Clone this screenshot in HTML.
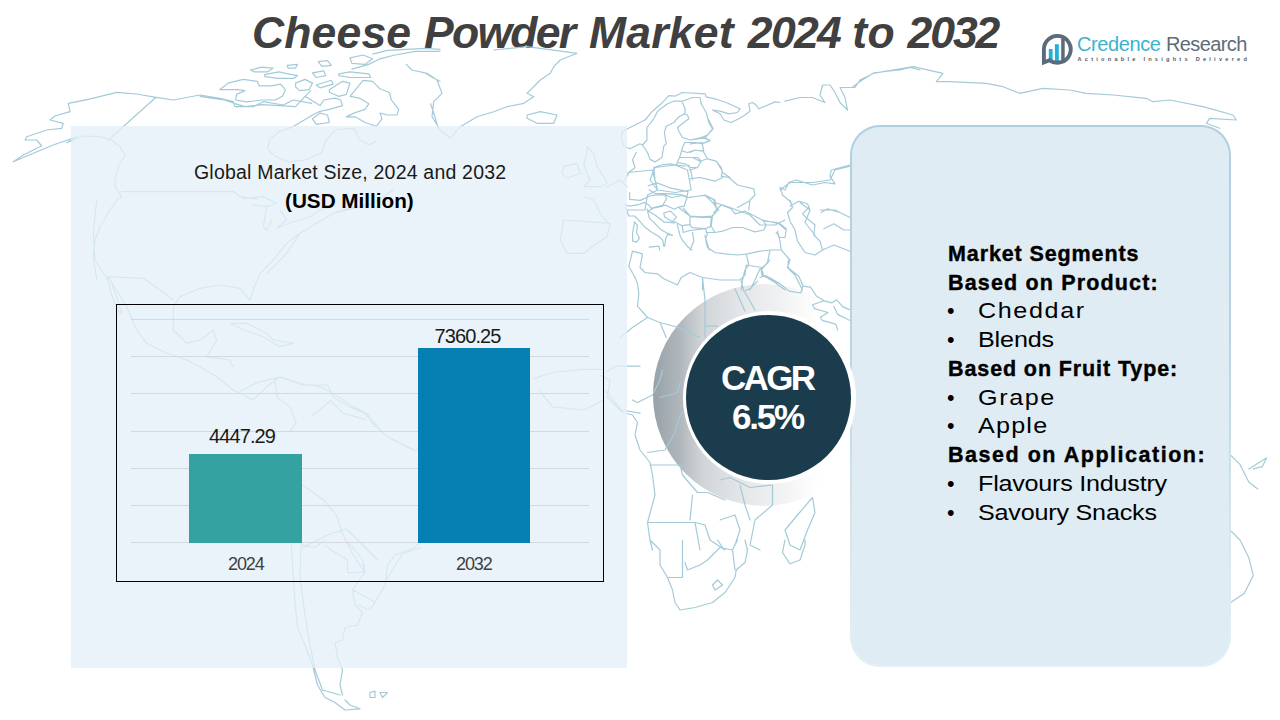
<!DOCTYPE html>
<html>
<head>
<meta charset="utf-8">
<style>
html,body{margin:0;padding:0;}
body{width:1280px;height:720px;position:relative;overflow:hidden;background:#fff;font-family:"Liberation Sans",sans-serif;}
.abs{position:absolute;}
.tw{position:absolute;top:8px;font-size:44.5px;font-weight:bold;font-style:italic;color:#404040;white-space:nowrap;line-height:50px;}
#panel{left:71px;top:126px;width:556px;height:542px;background:rgba(228,240,247,0.78);}
#map{left:0;top:0;}
#chartbox{left:116px;top:304px;width:486px;height:276px;border:1px solid #000;}
.grid{position:absolute;left:131px;width:458px;height:1px;background:#D3D9DD;}
#bar1{left:189px;top:454px;width:113px;height:89px;background:#35A2A2;}
#bar2{left:418px;top:348px;width:112px;height:195px;background:#0680B2;}
.lbl{position:absolute;font-size:20px;letter-spacing:-0.9px;color:#1a1a1a;white-space:nowrap;line-height:24px;}
.axl{position:absolute;font-size:18px;letter-spacing:-1.1px;color:#404040;white-space:nowrap;line-height:22px;}
#gms{left:194px;top:160px;font-size:19.5px;letter-spacing:0.2px;color:#1a1a1a;white-space:nowrap;line-height:24px;}
#usd{left:285px;top:189px;font-size:20.7px;font-weight:bold;color:#000;white-space:nowrap;line-height:24px;}
#cardb{left:850px;top:125px;width:381px;height:542px;border-radius:30px;background:linear-gradient(180deg,#B0CFE0 0%,#B8D4E3 40%,#DDEBF2 85%,#E4EFF5 100%);}
#card{left:852px;top:127px;width:377px;height:538px;border-radius:28px;background:#DFECF4;}
.sl{position:absolute;font-size:21.5px;line-height:28.73px;color:#000;white-space:nowrap;}
.sl.b{font-weight:bold;-webkit-text-stroke:0.4px #000;}
.sl.r{transform:scaleX(1.17);transform-origin:0 0;}
#ring{left:653px;top:284px;width:222px;height:222px;border-radius:50%;background:linear-gradient(90deg,#98A1A8 0%,#B0B7BC 12%,#D0D4D7 22%,#E2E5E7 38%,#EFF0F1 55%,#FFFFFF 75%);}
#circ{left:683.1px;top:311.05px;width:172.7px;height:172.7px;border-radius:50%;background:#fff;}
#dark{left:686.1px;top:315.05px;width:164.7px;height:164.7px;border-radius:50%;background:#1A3C4D;}
#cagr{left:686px;top:357px;width:165px;text-align:center;color:#fff;font-weight:bold;font-size:35px;letter-spacing:-1.2px;line-height:39px;}
</style>
</head>
<body>
<span class="tw" style="left:252.00px;letter-spacing:0.150px">Cheese</span><span class="tw" style="left:424.00px;letter-spacing:-1.720px">Powder</span><span class="tw" style="left:589.00px;letter-spacing:0.220px">Market</span><span class="tw" style="left:747.80px;letter-spacing:-1.667px">2024</span><span class="tw" style="left:852.20px;letter-spacing:0.500px">to</span><span class="tw" style="left:907.60px;letter-spacing:-2.100px">2032</span>

<div id="ring" class="abs"></div>
<svg id="map" class="abs" width="1280" height="720"><path d="M13.3 161.7 L23.3 155 L33.3 150 L41.7 146 L36.7 140 L25 140 L26.7 136.7 L46.7 130 L61.7 128.3 L63.3 123.3 L50 120 L55 116 L70 111.7 L68.3 103.3 L88.3 99.3 L116.7 92.3 L136.7 94 L156 97.3 L173.3 100 L200 95 L220 98.3 L233.3 101.7 L235 106.7 L253.3 106.7 L263.3 101.7 L283.3 105 L293.3 100 L311.7 103.3M13.3 161.7 L33.3 153.3 L53.3 145 L76.7 136.7 L66.7 142.7 L83.3 136 L100 136.7 L111.7 140 L120 146.7 L125 155 L118.3 166.7 L115 180 L115 186.7 L121.7 196.7 L116.7 200 L110 210 L100 226.7 L95 240 L93.3 256.7 L96.7 280M156 97.3 L108.3 140M121.7 191.7 L233.3 191.7 L240 196.7 L256.7 199.3M393.3 190 L373.3 203.3 L333.3 213.3 L300 233.3 L286.7 253.3 L266.7 273.3M243.3 198.3 L263.3 196.7 L276.7 203.3 L266.7 206.7 L253.3 205M266.7 206.7 L263.3 226.7 L266.7 230 L271.7 220M280 210 L286.7 220 L276.7 228.3 L293.3 221.7 L310 216.7 L320 210 L333.3 206.7M219.7 89.7 L228.1 83.1 L243.1 79.4 L257.2 81.3 L259.1 85.9 L271.3 85.9 L280.6 84.1 L285.3 89.7 L282.5 96.3 L275 100 L261.9 100 L246.9 101.9 L235.6 100 L236.6 94.4 L245 90.6 L237.5 89.7 L219.7 89.7M200 96.3 L211.3 98.1 L224.4 100 L235.6 103.8 L245 106.6 L261.9 104.7 L278.8 105.6 L295.6 106.6 L305 96.3 L310.6 90.6M250.6 70 L261.9 67.2 L273.1 68.1 L267.5 71.9 L254.4 71.9 L250.6 70M264.7 74.7 L278.8 71.9 L288.1 73.8 L297.5 75.6 L293.8 78.4 L278.8 78.4 L264.7 76.6 L264.7 74.7M287.2 65.3 L297.5 64.4 L295.6 68.1 L288.1 68.1 L287.2 65.3M295.6 83.1 L305 79.4 L312.5 83.1 L308.8 89.7 L299.4 90.6 L295.6 86.9 L295.6 83.1M312.5 72.8 L323.8 70.9 L325.6 75.6 L316.3 77.5 L312.5 72.8M318.1 61.6 L327.5 60.6 L331.3 65.3 L321.9 66.3 L318.1 61.6M316.3 85 L331.3 80.3 L333.1 84.1 L320 87.8 L316.3 85M329.4 89.7 L342.5 81.3 L350 83.1 L346.3 94.4 L338.8 96.3 L329.4 92.5 L329.4 89.7M338.8 73.8 L350 71.9 L368.8 73.8 L370.6 77.5 L350 77.5 L338.8 75.6 L338.8 73.8M350 57.8 L363.1 55 L372.5 58.8 L365 64.4 L351.9 63.4 L350 57.8M351.9 69.1 L368.8 64.4 L380 58.8 L395 55 L415.6 51.3 L440 51.3M372.5 54.1 L387.5 50.3 L406.3 49.4 L425 48.4 L440 49.4M363.1 80.3 L372.5 81.3 L380 88.8 L389.4 92.5 L391.3 100 L398.8 109.4 L396.9 115 L387.5 115 L380 113.1 L381.9 118.8 L376.3 126.3 L365 122.5 L355.6 116.9 L346.3 116.9 L353.8 113.1 L365 109.4 L368.8 103.8 L359.4 98.1 L350 96.3 L363.1 80.3M312.5 118.8 L320 113.1 L327.5 115 L329.4 122.5 L316.3 124.4 L312.5 118.8M305 96.3 L314.4 101.9 L320 105.6 L323.8 100 L335 98.1 L340.6 100 L342.5 105.6 L329.4 109.4 L320 111.3 L312.5 115 L293.8 126.3 L278.8 131.9 L269.4 139.4 L267.5 148.8 L275 156.3 L288.1 161.9 L305 160 L321.9 152.5 L325.6 141.3 L335 130 L353.8 128.1 L359.4 139.4 L368.8 145 L376.3 141.3M406.3 64.4 L411.9 70 L425 72.8 L432.5 77.5 L440 81.3M430.6 103.8 L434.4 115 L438.1 128.1M427 73.3 L437 80 L442 93.3 L433.7 101.7 L432 116.7 L440.3 130 L450.3 138.3 L460.3 126.7 L477 116.7 L493.7 111.7 L507 106.7 L523.7 103.3 L533.7 96.7 L527 93.3 L540.3 80 L550.3 73.3 L553.7 66.7 L560.3 60 L577 53.3 L527 46.7 L493.7 50M527 115 L540.3 111.7 L557 115 L553.7 123.3 L537 123.3 L527 118.3 L527 115M587 146.7 L593.7 153.3 L597 166.7 L603.7 176.7 L607 183.3 L600.3 186.7 L583.7 186.7 L590.3 180 L587 173.3 L583.7 163.3 L587 153.3 L587 146.7M563.7 166.7 L577 163.3 L580.3 173.3 L567 178.3 L562 173.3 L563.7 166.7M563.7 220 L587 221.7 L610.3 223.3 L607 236.7 L597 243.3 L583.7 253.3 L567 253.3 L560.3 240 L563.7 220M583.7 196.7 L593.7 200 L600.3 213.3 L607 221.7M607 186.7 L620.3 180 L627 186.7M853 86.7 L859.7 81.7 L873 73.3 L903 68.3 L913 66.7 L943 73.3 L936.3 81.7 L949.7 81.7 L986.3 83.3 L1003 86.7 L1019.7 93.3 L1043 88.3 L1069.7 90 L1086.3 93.3 L1113 95 L1146.3 98.3 L1153 101.7 L1169.7 100 L1203 106.7 L1233 115 L1236.3 120 L1209.7 118.3 L1206.3 123.3 L1219.7 128.3M96.7 200 L93.3 233.3 L95 260 L103.3 273.3 L110 280 L116.7 296.7 L121.7 313.3M106.7 276.7 L113.3 300 L120 313.3M110 280 L126.7 306.7 L136.7 330 L146.7 343.3 L166.7 353.3 L186.7 360 L200 366.7 L216.7 376.7 L233.3 390 L246.7 396.7 L253.3 400M173.3 306.7 L180 296.7 L200 288.3 L220 285 L240 288.3 L250 300 L253.3 290 L260 273.3 L273.3 260 L286.7 243.3 L300 233.3 L316.7 223.3 L333.3 213.3 L353.3 206.7M173.3 306.7 L173.3 330 L186.7 343.3 L200 340 L213.3 330 L216.7 340 L206.7 356.7 L230 360 L233.3 366.7M106.7 276.7 L143.3 278.3 L160 290 L173.3 300M230 323.3 L246.7 323.3 L266.7 333.3 L273.3 340 L293.3 343.3 L280 346.7 L263.3 336.7 L240 328.3 L230 323.3M253.3 400 L266.7 386.7 L280 376.7 L300 383.3 L320 386.7 L333.3 393.3 L353.3 406.7 L366.7 413.3 L383.3 433.3M642.5 145 L640 143.8 L630 148.8 L623.8 146.2 L621.2 137.5 L622.5 131.2 L627.5 128.8 L635 125 L645 120 L652.5 111.2 L661.2 103.8 L668.8 95.6 L675 96.2 L682.5 92.5 L705 93.8 L706.2 96.9 L715 98.8 L726.2 102.5 L740 108.8 L737.5 112.5 L728.8 113.8 L720 111.2 L712.5 110 L720 113.8 L723.8 120 L731.2 122.5 L738.8 118.8 L745 115 L750 111.2 L748.8 103.8 L752.5 102.5 L756.2 105 L758.8 108.8 L765 106.2 L775 101.9 L780 102.5M642.5 145 L646.9 140 L646.9 127.5 L653.8 118.8 L657.5 111.2 L667.5 103.8 L673.8 101.2 L682.5 101.2 L692.5 97.5 L700 97.5M682.5 102.5 L685 108.8 L685 113.8 L678.8 116.9 L673.8 122.5 L666.2 126.2 L664.4 132.5 L666.2 143.8 L663.8 146.2 L661.9 157.5 L655 161.9 L650 159.4 L647.5 152.5 L642.5 145M700 97.5 L701.2 103.8 L706.2 112.5 L708.8 122.5 L712.5 128.8 L707.5 135 L701.2 137.5 L690 140 L682.5 137.5 L678.8 131.2 L677.5 127.5 L683.8 122.5 L688.8 118.8 L687.5 115 L683.8 113.8M701.2 137.5 L710 140 L702.5 143.8 L703.8 152.5 L707.5 158.8 L716.2 161.2 L721.2 167.5 L722.5 172.5 L730 177.5M685 142.5 L695 142.5 L702.5 143.8M682.5 151.2 L687.5 152.5 L695 150 L703.8 151.2M680 157.5 L692.5 157.5 L700 161.2 L707.5 158.8M677.5 162.5 L685 163.8 L690 167.5 L697.5 167.5 L701.2 161.2M685 142.5 L682.5 147.5 L680 156.2 L676.2 165 L685 166.2M636.2 152.5 L632.5 160 L635 167.5 L628.8 172.5 L625 180M653.8 167.5 L661.2 165 L670 163.8 L676.2 165M653.8 167.5 L655 180M688.8 165 L691.2 172.5 L692.5 180M655 167.5 L675 165 L687.5 170 L691.2 190 L675 192.5 L657.5 190 L650 180 L655 167.5M627.5 172.5 L652.5 170 L657.5 190 L647.5 195 L645 210 L627.5 210M715 202.5 L730 207.5 L750 215 L760 225 L775 225 L785 220M780 190 L790 182.5 L812.5 182.5 L830 180 L835 170 L850 166.2M800 202.5 L810 210 L805 222.5 L815 235M820 210 L835 210 L850 217.5M785 101.2 L800 97.5 L812.5 97.5 L825 102.5 L820 95 L822.5 85 L830 85 L835 92.5 L840 102.5 L847.5 110 L845 97.5 L840 87.5 L855 87.5 L860 80 L875 72.5 L900 70 L910 67.5 L920 70M600 375 L610 380 L607.5 397.5 L622.5 412.5 L632.5 415 L637.5 422.5 L635 435 L640 450 L650 462.5 L652.5 475 L655 495 L647.5 522.5 L650 540 L652.5 550M632.5 400 L637.5 402.5 L652.5 395 L660 380 L662.5 370M660 397.5 L677.5 392.5 L680 382.5M647.5 452.5 L665 450 L675 432.5 L680 415 L682.5 412.5M650 465 L680 465 L682.5 475 L697.5 492.5 L707.5 492.5 L725 500M720 480 L730 477.5 L750 487.5 L772.5 485 L772.5 505 L755 520 L750 545 L760 550M740 485 L745 505 L750 520M647.5 522.5 L670 522.5 L695 522.5 L705 525 L710 540 L725 550M692.5 495 L690 520M695 522.5 L700 550M720 520 L735 515 L740 530 L735 545M812.5 497.5 L815 512.5 L807.5 530 L800 550 L790 545 L785 530 L797.5 515 L812.5 497.5M650 540 L660 550 L660 565 L667.5 577.5 L672.5 590 L675 602.5 L680 610 L695 607.5 L712.5 602.5 L725 592.5 L735 577.5 L736.2 570 L745 562.5 L747.5 550 L745 540M667.5 577.5 L682.5 577.5 L682.5 540M685 562.5 L687.5 570 L700 565 L707.5 560 L720 547.5 L732.5 550 L735 570M717.5 540 L722.5 547.5M732.5 550 L737.5 540M712.5 585 L717.5 580 L722.5 585 L715 590 L712.5 585M785 540 L782.5 552.5 L790 563.8 L800 560 L805 545 L805 540M708.8 120 L713.1 128.8 L705 137.5 L710 140.6 L702.5 143.8 L703.8 152.5 L707.5 158.8 L716.2 161.2 L722.5 171.2 L721.2 176.2 L728.8 177.5 L737.5 185 L753.8 188.8 L755 195 L750 200 L748.8 210M690 140 L703.8 138.1M690 143.8 L702.5 142.5M690 152.5 L695 150 L702.5 151.2M690 157.5 L697.5 157.5 L701.2 161.2 L697.5 167.5 L690 170M690 178.8 L700 177.5 L715 181.2 L722.5 177.5M690 197.5 L705 195 L715 200 L716.2 207.5 L718.8 210M737.5 207.5 L748.8 201.2M780 187.5 L785 190 L788.8 182.5 L796.2 180 L812.5 185 L825 182.5 L835 183.8 L830 176.2 L831.2 170 L850 165M780 187.5 L782.5 195 L790 201.2 L792.5 207.5M790 206.2 L798.8 201.2 L807.5 203.8 L810 210M713.8 212.5 L721.2 205 L731.2 208.8 L735 213.8 L745 211.2 L762.5 220 L780 223.8 L786.2 228.8M712.5 215 L711.2 226.2 L715 232.5 L722.5 231.2 L732.5 227.5 L742.5 227.5 L755 231.9 L763.8 230 L766.2 225 L762.5 220M706.2 232.5 L715 232.5M707.5 247.5 L715 252.5 L725 253.8 L737.5 255 L747.5 253.8 L760 251.2 L771.2 250 L780 250M705 235 L706.2 242.5 L707.5 247.5M777.5 231.2 L780 241.2 L781.2 250M765 221.2 L777.5 222.5 L786.2 230 L785 237.5 L780 237.5 L776.2 232.5M790 200 L792.5 207.5 L787.5 212.5 L790 221.2 L795 230 L797.5 241.2 L805 252.5 L815 255 L822.5 250M808.8 207.5 L802.5 213.8 L807.5 218.8 L815 225 L813.8 235 L820 241.2 L822.5 250M821.2 212.5 L827.5 208.8 L840 212.5 L850 217.5M823.8 228.8 L833.8 223.8 L843.8 230 L850 230M822.5 250 L833.8 245 L850 251.2M746.2 253.8 L748.8 265 L745 270 L742.5 280 L741.2 290M770 250 L767.5 262.5 L761.2 270 L762.5 275 L775 282.5 L785 290M781.2 250 L790 260 L787.5 267.5 L795 275 L800 285 L802.5 290M760 268.8 L755 280 L750 290M702.5 277.5 L702.5 290M690 216.2 L700 217.5 L712.5 217.5M692.5 232.5 L693.8 241.2 L690 250M625.8 207.2 L628.7 216 L634.6 216 L639.4 220.8 L645.3 227.6 L652.1 232.5 L658.9 236.4 L662.8 240.3 L663.7 246.1M647.2 209.2 L649.2 217.9 L655 223.7 L660.8 229.6 L667.6 233.4 L672.5 235.4 L667.6 234.4 L665.7 238.3 L664.7 246.1M623.9 204.3 L629.7 206.2 L639.4 204.3 L644.3 202.4 L649.2 205.3 L652.1 209.2M629.7 192.6 L629.7 199.4 L640.4 200.4 L651.1 195.5 L664.7 194.6 L666.6 198.5 L662.8 205.3 L652.1 208.2M648.2 185.8 L656.9 182.9 L669.6 187.8 L688 191.7 L687.1 196.5M649.2 189.7 L655 193.6 L665.7 193.6 L680.3 194.6 L687.1 196.5M664.7 194.6 L671.5 197.5 L682.2 195.5 L687.1 197.5 L684.1 206.2 L678.3 207.2 L674.4 209.2 L665.7 205.3 L662.8 205.3M687.1 197.5 L704.5 195.5 L713.3 199.4 L717.2 211.1 L712.3 216 L701.6 216.9 L690 216 L683.2 208.2M705.5 195.5 L712.3 202.4 L716.2 207.2M678.3 207.2 L690 216 L690 224.7 L682.2 225.7 L674.4 221.8M648.2 211.1 L653 208.2 L662.8 206.2M663.7 213 L670.5 211.1 L676.4 216.9 L672.5 221.8 L664.7 216.9 L663.7 213M648.2 211.1 L655 215 L663.7 221.8 L674.4 222.8M690 216.9 L711.4 216.9 L710.4 226.6 L705.5 228.6 L691.9 227.6 L690 224.7M677.3 224.7 L680.3 236.4 L683.2 241.2 L688 247.1 L691.9 250M682.2 225.7 L683.2 232.5 L690 230.5 L705.5 228.6 L707.5 234.4 L705.5 238.3 L709.4 250M634.6 221.8 L637.5 225.7 L636.5 232.5 L639.4 238.3 L636.5 242.2 L632.6 241.2 L632.6 232.5 L634.6 221.8M649.2 247.1 L658.9 246.1 L659.8 250M632.5 251.2 L642.5 253.8 L641.2 261.2 L640 267.5 L645 272.5M632.5 251.2 L628.8 266.2 L635 277.5 L637.5 283.8M645 272.5 L657.5 273.8 L663.8 278.8 L677.5 285 L681.2 277.5 L690 272.5 L702.5 277.5 L720 280 L740 280M702.5 277.5 L705 300 L705 337.5M637.5 283.8 L638.8 293.8 L637.5 306.2 L647.5 317.5 L660 322.5 L678.8 327.5 L700 337.5M647.5 317.5 L632.5 327.5 L620 337.5M660 322.5 L666.2 337.5M740 280 L745 275 L746.2 265 L761.2 267.5 L763.8 276.2 L780 283.8M741.2 281.2 L743.8 291.2 L750 288.8 L757.5 281.2M735 288.8 L745 311.2M745 292.5 L755 310M705 326.2 L717.5 326.2M760 277.5 L765.8 275.5 L779.4 283.3 L789.2 291.1 L800.8 293 L802.8 286.2 L810.5 287.2 L816.4 296 L824.1 300.8 L831.9 302.8 L836.8 299.8 L842.6 306.6 L849.4 309.6M761.9 275.5 L761 268.7 L767.8 262.9 L769.7 260M788.2 260 L788.2 267.8 L798.9 276.5 L802.8 285.3M824.1 300.8 L812.5 304.7 L814.4 308.6 L828 312.5 L820.3 317.3 L822.2 320.3 L835.8 324.1 L837.7 330M833.9 306.6 L837.7 314.4 L845.5 318.3 L849.4 320.3M1231.1 455.6 L1240 464.4 L1248.9 482.2 L1257.8 488.9M1248.9 468.9 L1266.7 457.8 L1262.2 466.7 L1253.3 468.9M1231.1 531.1 L1240 540 L1248.9 557.8 L1253.3 575.6 L1244.4 593.3 L1231.1 602.2M291.2 540 L292.5 565 L295 602.5 L297.5 627.5 L305 645 L312.5 665 L317.5 685 L325 697.5 L335 702.5 L345 710 L360 708.8 L350 705 L345 700M301.2 540 L300 577.5 L305 615 L310 645 L315 670 L322.5 690 L340 695M342.5 695 L340 685 L342.5 670 L337.5 657.5 L335 642.5 L342.5 640 L345 627.5 L357.5 625 L362.5 612.5 L355 605 L352.5 590 L357.5 582.5 L365 572.5 L362.5 560 L355 550 L345 540M357.5 605 L370 610 L375 602.5 L385 585 L387.5 565 L395 555 L415 547.5 L420 540M352.5 590 L367.5 597.5 L375 602.5M325 545 L335 552.5 L347.5 560 L347.5 572.5 L362.5 572.5 L365 565M302.5 545 L315 547.5 L325 540M370 692.5 L375 691.2 L375 697.5 L370 697.5 L370 692.5M380 692.5 L387.5 692.5 L382.5 697.5 L380 692.5M240 391.2 L258.8 381.9 L280.6 377.2 L302.5 385 L327.5 385 L333.8 397.5 L349.4 406.9 L365 413.1 L374.4 425.6 L390 438.1 L415 450.6 L421.2 447.5M274.4 378.8 L277.5 397.5 L290 406.9 L296.2 422.5 L290 431.9M311.9 416.2 L330.6 400.6 L343.1 413.1 L365 419.4M302.5 485 L324.4 500.6 L336.9 516.2 L343.1 535 L352.5 553.8 L365 572.5M302.5 547.5 L327.5 535 L346.2 528.8 L365 547.5 L377.5 560M421.2 547.5 L402.5 553.8 L386.9 578.8M533.8 378.8 L552.5 372.5 L583.8 369.4 L602.5 369.4M540 391.2 L552.5 406.9 L583.8 410 L602.5 400.6M605.6 372.5 L615 366.2 L640 366.2M605.6 391.2 L621.2 410 L640 413.1" fill="none" stroke="#A3CAD8" stroke-width="1.2" stroke-linejoin="round" stroke-linecap="round"/></svg>
<div id="panel" class="abs"></div>
<div id="gms" class="abs">Global Market Size, 2024 and 2032</div>
<div id="usd" class="abs">(USD Million)</div>

<div id="chartbox" class="abs"></div>
<div class="grid" style="top:319px"></div>
<div class="grid" style="top:356px"></div>
<div class="grid" style="top:393px"></div>
<div class="grid" style="top:431px"></div>
<div class="grid" style="top:468px"></div>
<div class="grid" style="top:505px"></div>
<div class="grid" style="top:542px"></div>
<div id="bar1" class="abs"></div>
<div id="bar2" class="abs"></div>
<div id="l1" class="lbl" style="left:209px;top:424px">4447.29</div>
<div id="l2" class="lbl" style="left:434.5px;top:324px">7360.25</div>
<div id="a1" class="axl" style="left:228px;top:552.5px">2024</div>
<div id="a2" class="axl" style="left:456px;top:552.5px">2032</div>



<div id="cardb" class="abs"></div>
<div id="card" class="abs"></div>
<div id="circ" class="abs"></div>
<div id="dark" class="abs"></div>
<div id="cagr" class="abs"><div style="letter-spacing:-2.6px;text-indent:-2.6px;margin-top:1px">CAGR</div><div style="letter-spacing:-2.2px;text-indent:-2.2px;margin-top:0px">6.5%</div></div>
<div class="sl b" style="top:240.00px;left:948px;letter-spacing:0.886px">Market Segments</div>
<div class="sl b" style="top:268.73px;left:948px;letter-spacing:1.156px">Based on Product:</div>
<div class="sl bu" style="top:297.46px;left:947px">&#8226;</div><div class="sl r" style="top:297.46px;left:978px;letter-spacing:1.368px">Cheddar</div>
<div class="sl bu" style="top:326.19px;left:947px">&#8226;</div><div class="sl r" style="top:326.19px;left:978px;letter-spacing:-0.137px">Blends</div>
<div class="sl b" style="top:354.92px;left:948px;letter-spacing:0.895px">Based on Fruit Type:</div>
<div class="sl bu" style="top:383.65px;left:947px">&#8226;</div><div class="sl r" style="top:383.65px;left:978px;letter-spacing:1.368px">Grape</div>
<div class="sl bu" style="top:412.38px;left:947px">&#8226;</div><div class="sl r" style="top:412.38px;left:978px;letter-spacing:1.026px">Apple</div>
<div class="sl b" style="top:441.11px;left:948px;letter-spacing:1.525px">Based on Application:</div>
<div class="sl bu" style="top:469.84px;left:947px">&#8226;</div><div class="sl r" style="top:469.84px;left:978px;letter-spacing:-0.203px">Flavours Industry</div>
<div class="sl bu" style="top:498.57px;left:947px">&#8226;</div><div class="sl r" style="top:498.57px;left:978px;letter-spacing:-0.184px">Savoury Snacks</div>

<svg id="logo" class="abs" style="left:1030px;top:25px" width="240" height="50" viewBox="1030 25 240 50">
 <rect x="1048.8" y="49" width="3.8" height="11" fill="#1FB2D8"/>
 <rect x="1054.9" y="44.2" width="3.9" height="17" fill="#1FB2D8"/>
 <rect x="1061.2" y="38.5" width="3.5" height="23" fill="#5A6B7B"/>
 <path d="M1043.9 62.5 L1043.9 49.3 A13.4 13.4 0 1 1 1049.6 60.3 Z" fill="none" stroke="#5A6B7B" stroke-width="3.9" stroke-linejoin="miter" stroke-miterlimit="6"/>
 <text x="1077" y="51" font-family="Liberation Sans" font-size="20" letter-spacing="-0.4" fill="#3AB3D2" id="lcred">Credence</text>
 <text x="1166" y="51" font-family="Liberation Sans" font-size="20" letter-spacing="-0.6" fill="#5E6C79" id="lres">Research</text>
 <text x="1077.5" y="61.3" font-family="Liberation Sans" font-weight="bold" font-size="5.6" letter-spacing="3.25" fill="#505B66" id="ltag">Actionable Insights Delivered</text>
</svg>

</body>
</html>
